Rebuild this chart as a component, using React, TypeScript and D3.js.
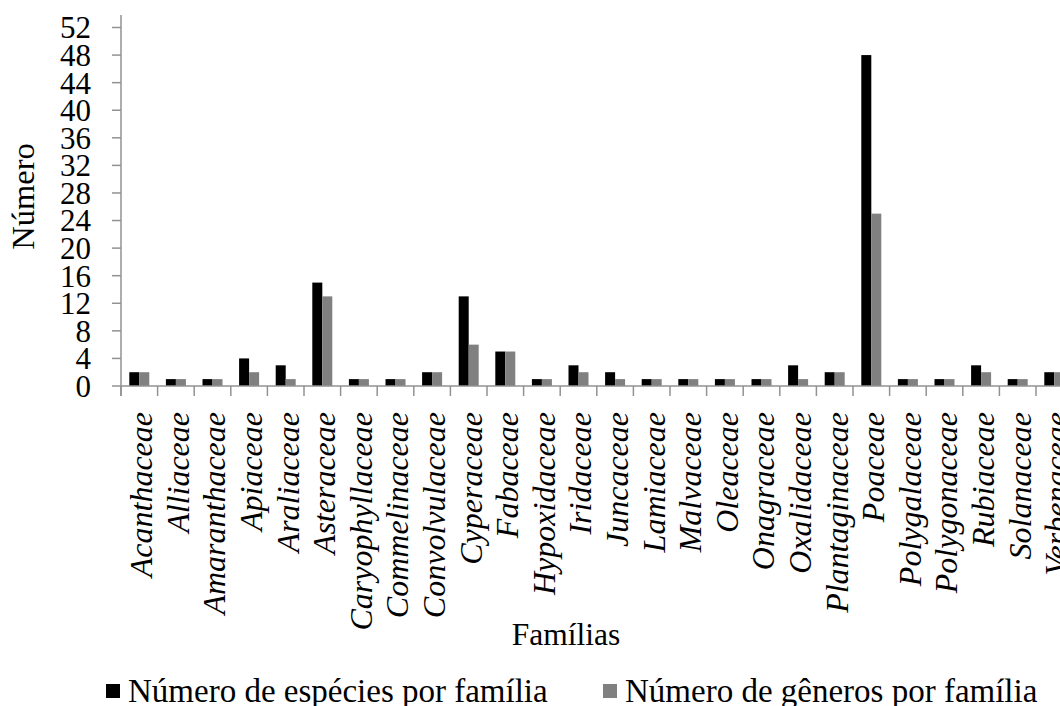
import React from "react";
import * as d3 from "d3";

const families = [
  "Acanthaceae", "Alliaceae", "Amaranthaceae", "Apiaceae", "Araliaceae", "Asteraceae",
  "Caryophyllaceae", "Commelinaceae", "Convolvulaceae", "Cyperaceae", "Fabaceae",
  "Hypoxidaceae", "Iridaceae", "Juncaceae", "Lamiaceae", "Malvaceae", "Oleaceae",
  "Onagraceae", "Oxalidaceae", "Plantaginaceae", "Poaceae", "Polygalaceae",
  "Polygonaceae", "Rubiaceae", "Solanaceae", "Verbenaceae",
];
const especies = [2, 1, 1, 4, 3, 15, 1, 1, 2, 13, 5, 1, 3, 2, 1, 1, 1, 1, 3, 2, 48, 1, 1, 3, 1, 2];
const generos = [2, 1, 1, 2, 1, 13, 1, 1, 2, 6, 5, 1, 2, 1, 1, 1, 1, 1, 1, 2, 25, 1, 1, 2, 1, 2];
const yTicks = [0, 4, 8, 12, 16, 20, 24, 28, 32, 36, 40, 44, 48, 52];
const seriesNames = ["Número de espécies por família", "Número de gêneros por família"];
const seriesColors = ["#000000", "#808080"];

const FONT = "'Liberation Serif', 'Times New Roman', serif";

export default function App() {
  const W = 1060, H = 706;
  const x0 = 121, step = 36.6;
  const x = d3.scaleBand<string>().domain(families).range([x0, x0 + step * families.length]).padding(0);
  const xs = d3.scaleBand<string>().domain(["e", "g"]).range([0, x.bandwidth()]).paddingInner(0).paddingOuter(0.83);
  const y = d3.scaleLinear().domain([0, 52]).range([386, 27.5]);
  const axisColor = "#929292";
  const rows = families.map((f, i) => ({ f, e: especies[i], g: generos[i] }));

  return (
    <svg width={W} height={H} style={{ position: "absolute", left: 0, top: 0, background: "#fff" }} fontFamily={FONT}>
      <rect x={0} y={0} width={W} height={H} fill="#fff" />
      {/* bars */}
      {rows.map((r) => (
        <g key={r.f}>
          <rect x={x(r.f)! + xs("e")!} y={y(r.e)} width={xs.bandwidth()} height={y(0) - y(r.e)} fill={seriesColors[0]} />
          <rect x={x(r.f)! + xs("g")!} y={y(r.g)} width={xs.bandwidth()} height={y(0) - y(r.g)} fill={seriesColors[1]} />
        </g>
      ))}
      {/* y axis */}
      <line x1={x0} x2={x0} y1={y(53.8)} y2={y(0) + 10} stroke={axisColor} strokeWidth={1.5} />
      {yTicks.map((t) => (
        <g key={t}>
          <line x1={x0 - 9} x2={x0} y1={y(t)} y2={y(t)} stroke={axisColor} strokeWidth={1.5} />
          <text x={91} y={y(t)} dy="0.35em" textAnchor="end" fontSize={31} fill="#000">{t}</text>
        </g>
      ))}
      {/* x axis */}
      <line x1={x0} x2={x0 + step * families.length} y1={y(0)} y2={y(0)} stroke={axisColor} strokeWidth={1.5} />
      {families.map((f) => (
        <line key={f} x1={x(f)!} x2={x(f)!} y1={y(0)} y2={y(0) + 10} stroke={axisColor} strokeWidth={1.5} />
      ))}
      {families.map((f) => (
        <text key={f} transform={`translate(${x(f)! + x.bandwidth() / 2},412) rotate(-90)`} dy="0.4em"
          textAnchor="end" fontSize={32} fontStyle="italic" fill="#000">{f}</text>
      ))}
      {/* axis titles */}
      <text transform="translate(23,196.5) rotate(-90)" dy="0.35em" textAnchor="middle" fontSize={32.5} fill="#000">Número</text>
      <text x={566} y={645} textAnchor="middle" fontSize={31.5} fill="#000">Famílias</text>
      {/* legend */}
      {seriesNames.map((s, i) => {
        const lx = i === 0 ? 106 : 603;
        return (
          <g key={s}>
            <rect x={lx} y={684} width={14} height={14} fill={seriesColors[i]} />
            <text x={lx + 22} y={701.5} fontSize={33} fill="#000">{s}</text>
          </g>
        );
      })}
    </svg>
  );
}
